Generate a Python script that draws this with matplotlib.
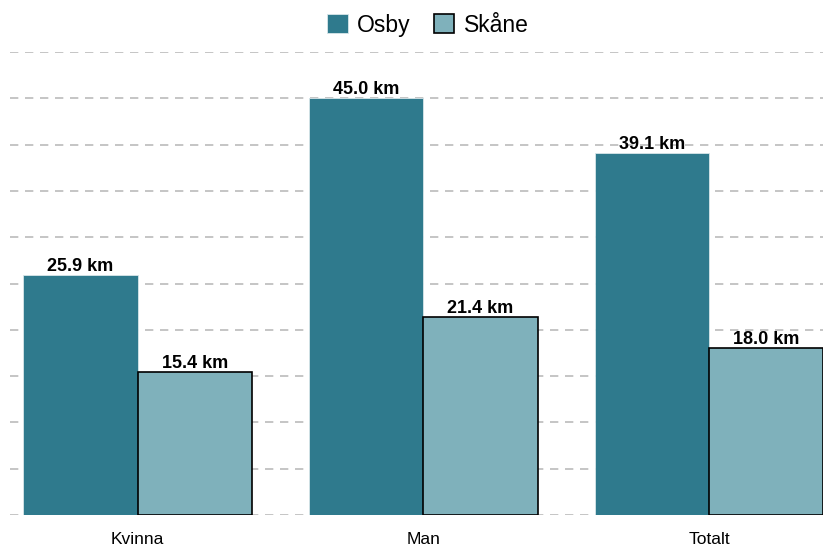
import matplotlib
matplotlib.use("Agg")
import matplotlib.pyplot as plt
import numpy as np

plt.rcParams['font.family'] = ['Liberation Sans', 'DejaVu Sans']

# data
categories = ['Kvinna', 'Man', 'Totalt']
osby = [25.9, 45.0, 39.1]
skane = [15.4, 21.4, 18.0]
series_names = ['Osby', 'Skåne']

fig = plt.figure(figsize=(8.23, 5.46), dpi=100)
ax = fig.add_axes([10 / 823, 31 / 546, 813 / 823, 463 / 546])

x = np.arange(len(categories))
w = 0.4
b1 = ax.bar(x - w / 2, osby, w, color='#2F7A8D', edgecolor='#d8e6ea', linewidth=0.6,
            label=series_names[0], zorder=3)
b2 = ax.bar(x + w / 2, skane, w, color='#7FB1BB', edgecolor='black', linewidth=1.2,
            label=series_names[1], zorder=3)

for bars, vals in ((b1, osby), (b2, skane)):
    for bar, v in zip(bars, vals):
        ax.text(bar.get_x() + bar.get_width() / 2, v, f'{v:.1f} km', ha='center', va='bottom',
                fontsize=13, fontweight='bold', zorder=4)

ax.set_xlim(-0.4466, 2.399)
ax.set_ylim(0, 50)
ax.set_yticks(np.arange(0, 51, 5))
ax.set_yticklabels([])
ax.yaxis.grid(True, linestyle=(0, (5, 4)), color='#bbbbbb', linewidth=1.2, zorder=0)
ax.set_xticks(x)
ax.set_xticklabels(categories, fontsize=12.5)
ax.tick_params(axis='both', length=0)
ax.tick_params(axis='x', pad=12)
for s in ax.spines.values():
    s.set_visible(False)

fig.legend(loc='center', bbox_to_anchor=(0.52, 0.954), ncol=2, frameon=False, fontsize=16.5,
           handlelength=0.9, handleheight=0.9, handletextpad=0.4, columnspacing=1.0)

fig.savefig('out.png', dpi=100)
